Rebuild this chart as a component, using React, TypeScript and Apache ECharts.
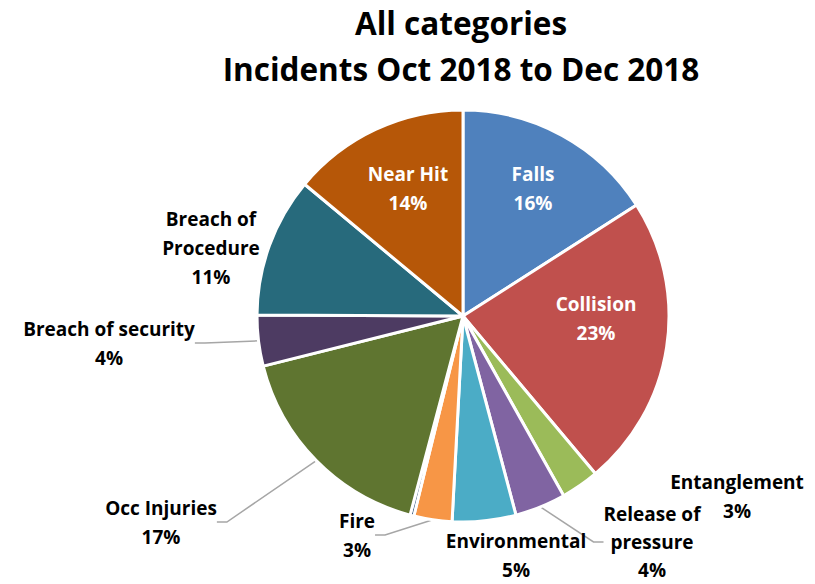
import React, { useEffect, useRef } from "react";
import * as echarts from "echarts";

const categories = [
  "Falls",
  "Collision",
  "Entanglement",
  "Release of pressure",
  "Environmental",
  "Fire",
  "Other",
  "Occ Injuries",
  "Breach of security",
  "Breach of Procedure",
  "Near Hit",
];
const displayNames = [
  "Falls",
  "Collision",
  "Entanglement",
  "Release of\npressure",
  "Environmental",
  "Fire",
  "",
  "Occ Injuries",
  "Breach of security",
  "Breach of\nProcedure",
  "Near Hit",
];
const percentValues = [16, 23, 3, 4, 5, 3, 0.3, 17, 4, 11, 14];
const colors = [
  "#4F81BD",
  "#C0504D",
  "#9BBB59",
  "#8064A2",
  "#4BACC6",
  "#F79646",
  "#2C4D75",
  "#5F7530",
  "#4D3B62",
  "#276A7C",
  "#B65708",
];
const insideLabels = ["Falls", "Collision", "Near Hit"];
const labelLineShown = ["Release of pressure", "Fire", "Occ Injuries", "Breach of security"];

// label anchor positions (layout styling, text-block centres in px)
const labelPos: Record<string, [number, number]> = {
  Falls: [533, 188],
  Collision: [596, 318],
  "Near Hit": [408, 188],
  Entanglement: [737, 496],
  "Release of pressure": [652, 542],
  Environmental: [516, 555],
  Fire: [357, 535],
  "Occ Injuries": [161, 522],
  "Breach of security": [109, 343],
  "Breach of Procedure": [211, 248],
};

const FONT = "'Open Sans', Lato, sans-serif";

export default function App() {
  const ref = useRef<HTMLDivElement>(null);
  useEffect(() => {
    document.body.style.margin = "0";
    const chart = echarts.init(ref.current!, null, { renderer: "svg" });
    const data = categories.map((name, i) => {
      const inside = insideLabels.includes(name);
      return {
        name,
        value: percentValues[i],
        itemStyle: { color: colors[i] },
        label: {
          show: name !== "Other",
          position: inside ? "inside" : "outside",
          color: inside ? "#FFFFFF" : "#000000",
          lineHeight: name === "Release of pressure" ? 28 : 29,
        },
        labelLine: { show: labelLineShown.includes(name) },
      };
    });
    chart.setOption({
      animation: false,
      backgroundColor: "#FFFFFF",
      title: {
        text: "All categories\nIncidents Oct 2018 to Dec 2018",
        left: 456,
        top: -6,
        textAlign: "center",
        textStyle: {
          fontFamily: FONT,
          fontWeight: "bold",
          fontSize: 31.5,
          lineHeight: 46,
          color: "#000000",
        },
      },
      series: [
        {
          type: "pie",
          center: [463, 316],
          radius: [0, 206],
          startAngle: 90,
          clockwise: true,
          avoidLabelOverlap: false,
          itemStyle: { borderColor: "#FFFFFF", borderWidth: 3 },
          label: {
            fontFamily: FONT,
            fontWeight: "bold",
            fontSize: 19,
            lineHeight: 29,
            align: "center",
            formatter: (p: any) =>
              displayNames[p.dataIndex] + "\n" + p.value + "%",
          },
          labelLine: {
            lineStyle: { color: "#A6A6A6", width: 1.5 },
            length: 10,
            length2: 10,
          },
          labelLayout: (p: any) => {
            const name = categories[p.dataIndex];
            const pos = labelPos[name];
            if (!pos) return {};
            return {
              x: pos[0],
              y: pos[1],
              align: "center",
              verticalAlign: "middle",
            };
          },
          data,
        },
      ],
    });
    return () => chart.dispose();
  }, []);
  return <div ref={ref} style={{ width: 815, height: 584 }} />;
}
